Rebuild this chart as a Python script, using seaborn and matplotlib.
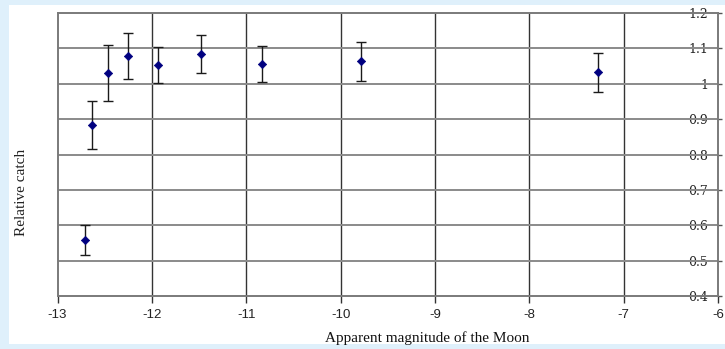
import matplotlib
matplotlib.use("Agg")
import matplotlib.pyplot as plt
import seaborn as sns
import pandas as pd

# Moon brightness vs. relative catch
magnitude = [-12.71, -12.63, -12.47, -12.25, -11.93, -11.48, -10.83, -9.785, -7.27]
catch = [0.558, 0.883, 1.030, 1.078, 1.053, 1.084, 1.056, 1.064, 1.033]
err = [0.043, 0.068, 0.080, 0.065, 0.050, 0.055, 0.051, 0.055, 0.055]

x_ticks = [-13, -12, -11, -10, -9, -8, -7, -6]
y_ticks = [0.4, 0.5, 0.6, 0.7, 0.8, 0.9, 1.0, 1.1, 1.2]
y_labels = ["0.4", "0.5", "0.6", "0.7", "0.8", "0.9", "1", "1.1", "1.2"]

df = pd.DataFrame({"mag": magnitude, "catch": catch, "err": err})

sns.set_theme(style="white")
plt.rcParams["font.family"] = ["DejaVu Sans"]

fig = plt.figure(figsize=(7.25, 3.49), dpi=100)
fig.patch.set_facecolor("#dff0fb")
# white panel behind the chart
panel = fig.add_axes([9 / 725, 1 - 344 / 349, 1 - 9 / 725, (344 - 5) / 349], zorder=-10)
panel.set_facecolor("white")
panel.set_xticks([])
panel.set_yticks([])
for s in panel.spines.values():
    s.set_visible(False)

ax = fig.add_axes([57.5 / 725, 1 - 296 / 349, (718 - 57.5) / 725, (296 - 13) / 349], zorder=1)
ax.set_facecolor("white")

ax.set_xlim(-13, -6)
ax.set_ylim(0.4, 1.2)

# grid
for xv in x_ticks[1:-1]:
    ax.axvline(xv, color="#333333", lw=1.0, zorder=1)
for yv in y_ticks[1:-1]:
    ax.axhline(yv, color="#8a8a8a", lw=1.4, zorder=1)

ax.errorbar(df["mag"], df["catch"], yerr=df["err"], fmt="none", ecolor="#1a1a1a",
            elinewidth=1.0, capsize=3.6, capthick=1.0, zorder=3)
sns.scatterplot(data=df, x="mag", y="catch", marker="D", s=18, color="#000080",
                edgecolor="#000080", linewidth=0.5, ax=ax, zorder=4)

for side in ["left", "right", "top", "bottom"]:
    ax.spines[side].set_visible(True)
    ax.spines[side].set_color("#7a7a7a")
    ax.spines[side].set_linewidth(1.4)

ax.set_xticks(x_ticks)
ax.set_xticklabels([str(v) for v in x_ticks], fontsize=9.5, family="Liberation Sans", color="#222222")
ax.tick_params(axis="x", direction="out", length=5, width=1, color="#333333", pad=4, bottom=True)

ax.yaxis.tick_right()
ax.set_yticks(y_ticks)
ax.set_yticklabels(y_labels, fontsize=9, family="DejaVu Serif", color="#222222")
ax.tick_params(axis="y", direction="out", length=3, width=1, color="#555555", pad=-10, right=True, left=False)
for lab in ax.get_yticklabels():
    lab.set_horizontalalignment("right")

ax.set_xlabel("")
ax.set_ylabel("")
fig.text(427 / 725, 1 - 338 / 349, "Apparent magnitude of the Moon", ha="center", va="center",
         fontsize=11, family="Liberation Serif", color="#111111")
fig.text(22 / 725, 1 - 192 / 349, "Relative catch", ha="center", va="center", rotation=90,
         fontsize=11, family="Liberation Serif", color="#222222")

fig.savefig("out.png", dpi=100, facecolor=fig.get_facecolor())
